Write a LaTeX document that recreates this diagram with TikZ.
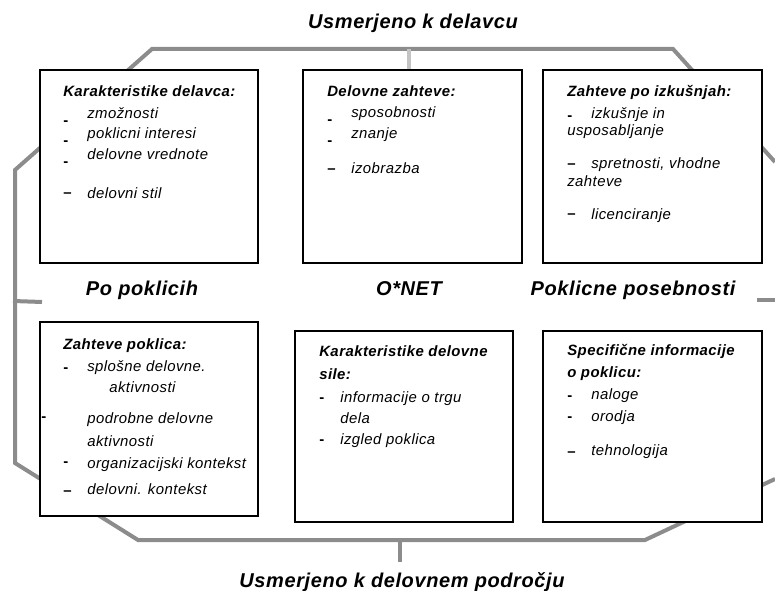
\documentclass[tikz,border=0pt]{standalone}
\usepackage{fontspec}
\setmainfont{Liberation Sans}[LetterSpace=3]
\definecolor{brgray}{HTML}{8C8C8C}
\definecolor{tkgray}{HTML}{C4C4C4}
\tikzset{
  frame/.style={draw=brgray,line width=3pt},
  tickline/.style={draw=brgray,line width=3pt},
  box/.style={draw=black,fill=white,line width=1.5pt},
  head/.style={anchor=base west,inner sep=0pt,font=\bfseries\itshape\fontsize{11.2}{13}\selectfont},
  item/.style={anchor=base west,inner sep=0pt,font=\itshape\fontsize{11.2}{13}\selectfont},
  dsh/.style={anchor=base west,inner sep=0pt,font=\bfseries\fontsize{11.2}{13}\selectfont},
  side/.style={anchor=base,inner sep=0pt,font=\bfseries\itshape\fontsize{15}{18}\selectfont}
}
\begin{document}
\begin{tikzpicture}[x=0.75pt,y=-0.75pt]
\useasboundingbox (0,0) rectangle (775,591);

% gray frame round the boxes
\draw[frame] (775,162) -- (673,49) -- (152,49) -- (15,170) -- (15,463) -- (138,540) -- (645,540) -- (775,479);
\draw[tickline,draw=tkgray] (408.5,49) -- (408.5,70);
\draw[tickline] (13,301) -- (42,302);
\draw[tickline] (757,300) -- (775,300);
\draw[tickline] (399.5,540) -- (399.5,562);

% boxes
\draw[box] (40,70) rectangle (258,263);
\draw[box] (303,70) rectangle (522,263);
\draw[box] (543,70) rectangle (762,263);
\draw[box] (40,322) rectangle (258,516);
\draw[box] (295,331) rectangle (513,522);
\draw[box] (543,331) rectangle (762,522);

% titles
\node[side] (top) at (413,29) {Usmerjeno k delavcu};
\node[side] (bot) at (402,587) {Usmerjeno k delovnem področju};
\node[side] (occ) at (142,296) {Po poklicih};
\node[side] (onet) at (409,296) {O*NET};
\node[side] (spec) at (633,296) {Poklicne posebnosti};

% worker characteristics
\node[head] (wkh) at (63,97) {Karakteristike delavca:};
\node[dsh] (wkd1) at (63,126) {-};
\node[item] (wki1) at (87,119) {zmožnosti};
\node[dsh] (wkd2) at (63,146) {-};
\node[item] (wki2) at (87,139) {poklicni interesi};
\node[dsh] (wkd3) at (63,167) {-};
\node[item] (wki3) at (87,160) {delovne vrednote};
\node[dsh] (wkd4) at (63,198) {–};
\node[item] (wki4) at (87,199) {delovni stil};

% worker requirements
\node[head] (rqh) at (327,97) {Delovne zahteve:};
\node[dsh] (rqd1) at (327,125) {-};
\node[item] (rqi1) at (351,118) {sposobnosti};
\node[dsh] (rqd2) at (327,146) {-};
\node[item] (rqi2) at (351,139) {znanje};
\node[dsh] (rqd3) at (327,174) {–};
\node[item] (rqi3) at (351,174) {izobrazba};

% experience requirements
\node[head] (exh) at (567,97) {Zahteve po izkušnjah:};
\node[dsh] (exd1) at (567,121) {-};
\node[item] (exi1) at (591,119) {izkušnje in};
\node[item] (exi1b) at (567,136) {usposabljanje};
\node[dsh] (exd2) at (567,169) {–};
\node[item] (exi2) at (591,169) {spretnosti, vhodne};
\node[item] (exi2b) at (567,187) {zahteve};
\node[dsh] (exd3) at (567,219) {–};
\node[item] (exi3) at (591,220) {licenciranje};

% occupational requirements
\node[head] (orh) at (63,350) {Zahteve poklica:};
\node[dsh] (ord1) at (63,373) {-};
\node[item] (ori1) at (87,372) {splošne delovne.};
\node[item] (ori1b) at (109,393) {aktivnosti};
\node[dsh] (ord2) at (41,422) {-};
\node[item] (ori2) at (87,424) {podrobne delovne};
\node[item] (ori2b) at (87,447) {aktivnosti};
\node[dsh] (ord3) at (63,467) {-};
\node[item] (ori3) at (87,469) {organizacijski kontekst};
\node[dsh] (ord4) at (63,496) {–};
\node[item] (ori4) at (87,495) {delovni. kontekst};

% workforce characteristics
\node[head] (wfh) at (319,357) {Karakteristike delovne};
\node[head] (wfh2) at (319,380) {sile:};
\node[dsh] (wfd1) at (319,403) {-};
\node[item] (wfi1) at (340,403) {informacije o trgu};
\node[item] (wfi1b) at (340,424) {dela};
\node[dsh] (wfd2) at (319,445) {-};
\node[item] (wfi2) at (340,445) {izgled poklica};

% occupation specific information
\node[head] (osh) at (567,356) {Specifične informacije};
\node[head] (osh2) at (567,378) {o poklicu:};
\node[dsh] (osd1) at (567,401) {-};
\node[item] (osi1) at (591,400) {naloge};
\node[dsh] (osd2) at (567,422) {-};
\node[item] (osi2) at (591,422) {orodja};
\node[dsh] (osd3) at (567,457) {–};
\node[item] (osi3) at (591,456) {tehnologija};
\end{tikzpicture}
\end{document}
